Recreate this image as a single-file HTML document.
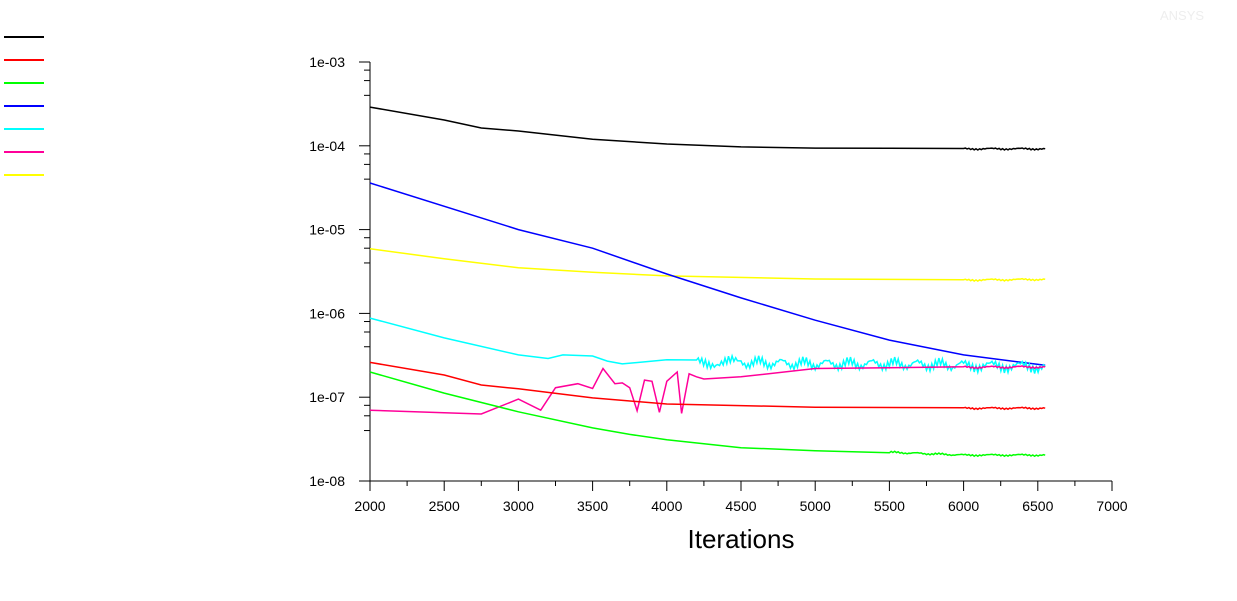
<!DOCTYPE html>
<html><head><meta charset="utf-8"><style>
body{margin:0;background:#fff;font-family:"Liberation Sans",sans-serif}
svg{display:block}
</style></head><body>
<svg id="chart" width="1237" height="601" xmlns="http://www.w3.org/2000/svg">
<text x="1160" y="20" font-size="13" fill="#eeeeee">ANSYS</text>
<g id="legend"></g>
<g id="axes"></g>
<g id="series"></g>
<text x="741" y="548" font-size="26" text-anchor="middle" fill="#000">Iterations</text>
</svg>
<script>
const NS="http://www.w3.org/2000/svg";
const xTicks=[2000,2500,3000,3500,4000,4500,5000,5500,6000,6500,7000];
const yExps=[-3,-4,-5,-6,-7,-8];
const yTickLabels=["1e-03","1e-04","1e-05","1e-06","1e-07","1e-08"];
const seriesNames=["continuity","x-velocity","y-velocity","z-velocity","energy","k","epsilon"];
const blackIt=[2000,2500,2750,3000,3500,4000,4500,5000,6000,6550];
const blackV=[2.9e-4,2.03e-4,1.63e-4,1.5e-4,1.2e-4,1.05e-4,9.7e-5,9.4e-5,9.2e-5,9.2e-5];
const blueIt=[2000,3000,3500,4000,4500,5000,5500,6000,6550];
const blueV=[3.6e-5,1.0e-5,6.0e-6,2.95e-6,1.53e-6,8.3e-7,4.8e-7,3.2e-7,2.4e-7];
const yellowIt=[2000,2500,3000,3500,4000,5000,6000,6550];
const yellowV=[5.9e-6,4.5e-6,3.5e-6,3.1e-6,2.8e-6,2.57e-6,2.5e-6,2.55e-6];
const cyanIt=[2000,2500,3000,3200,3300,3500,3600,3700,4000,4200,4500,5000,5500,6000,6550];
const cyanV=[8.8e-7,5.1e-7,3.2e-7,2.9e-7,3.2e-7,3.1e-7,2.7e-7,2.5e-7,2.8e-7,2.6e-7,2.6e-7,2.5e-7,2.5e-7,2.4e-7,2.3e-7];
const redIt=[2000,2500,2750,3000,3500,4000,5000,6000,6550];
const redV=[2.6e-7,1.84e-7,1.4e-7,1.26e-7,9.8e-8,8.3e-8,7.6e-8,7.4e-8,7.4e-8];
const greenIt=[2000,2500,3000,3500,3750,4000,4500,5000,5500,6000,6550];
const greenV=[2.0e-7,1.12e-7,6.7e-8,4.3e-8,3.6e-8,3.1e-8,2.5e-8,2.3e-8,2.2e-8,2.04e-8,2.04e-8];
const magIt=[2000,2750,3000,3150,3250,3400,3500,3570,3650,3700,3750,3800,3850,3900,3950,4000,4070,4100,4150,4200,4250,4500,5000,5500,6000,6550];
const magV=[7.0e-8,6.3e-8,9.5e-8,7.0e-8,1.3e-7,1.45e-7,1.27e-7,2.2e-7,1.45e-7,1.48e-7,1.3e-7,6.9e-8,1.6e-7,1.55e-7,6.6e-8,1.55e-7,2.0e-7,6.4e-8,1.9e-7,1.75e-7,1.65e-7,1.75e-7,2.2e-7,2.25e-7,2.28e-7,2.3e-7];
const colors=["#000","#f00","#0f0","#00f","#0ff","#f09","#ff0"];

const X=v=>370+(v-2000)*742/5000;
const Y=v=>62+(-3-Math.log10(v))*83.8;
function mk(tag,attrs,parent){const e=document.createElementNS(NS,tag);for(const k in attrs)e.setAttribute(k,attrs[k]);parent.appendChild(e);return e;}
const axes=document.getElementById('axes');
let a=mk('line',{x1:370,y1:62,x2:370,y2:481,stroke:'#000'},axes);


a=mk('line',{x1:370,y1:481,x2:1112,y2:481,stroke:'#000'},axes);


xTicks.forEach(t=>{
  const x=X(t);
  mk('line',{x1:x,y1:481,x2:x,y2:491,stroke:'#000'},axes);
  const tx=mk('text',{x:x,y:511,'font-size':14,'text-anchor':'middle'},axes);
  tx.textContent=t;
  
  
  if(t<7000){const m=X(t+250);mk('line',{x1:m,y1:481,x2:m,y2:486,stroke:'#000'},axes);}
});
yExps.forEach((e,i)=>{
  const y=Y(Math.pow(10,e));
  mk('line',{x1:359,y1:y,x2:370,y2:y,stroke:'#000'},axes);
  const tx=mk('text',{x:345,y:y+5,'font-size':14,'text-anchor':'end'},axes);
  tx.textContent=yTickLabels[i];
  
  
  if(e>-8){[8,6,4].forEach(m=>{const yy=Y(m*Math.pow(10,e-1));mk('line',{x1:364,y1:yy,x2:370,y2:yy,stroke:'#000'},axes);});}
});
const leg=document.getElementById('legend');
colors.forEach((c,i)=>{
  const l=mk('line',{x1:4,y1:37+i*23,x2:44,y2:37+i*23,stroke:c,'stroke-width':2},leg);
  
  
});
const ser=document.getElementById('series');
function draw(its,vals,color,name,noiseFrom,amp){
  const pts=[];
  for(let i=0;i<its.length-1;i++){
    const steps=(noiseFrom!=null&&its[i]>=noiseFrom)?Math.round((its[i+1]-its[i])/12):1;
    for(let s=0;s<steps;s++){
      const f=s/steps, it=its[i]+f*(its[i+1]-its[i]);
      const lv=Math.log10(vals[i])+f*(Math.log10(vals[i+1])-Math.log10(vals[i]));
      let y=Y(Math.pow(10,lv));
      if(steps>1) y+=amp*Math.sin(it*1.7)*Math.cos(it*0.37);
      pts.push(X(it).toFixed(1)+','+y.toFixed(1));
    }
  }
  pts.push(X(its[its.length-1]).toFixed(1)+','+Y(vals[vals.length-1]).toFixed(1));
  const p=mk('polyline',{points:pts.join(' '),fill:'none',stroke:color,'stroke-width':1.5},ser);
  
  
}
draw(blackIt,blackV,"#000","continuity",5500,1.2);
draw(yellowIt,yellowV,"#ff0","epsilon",5500,1.2);
draw(blueIt,blueV,"#00f","z-velocity",null,0);
draw(cyanIt,cyanV,"#0ff","energy",4200,7);
draw(magIt,magV,"#f09","k",6000,1.5);
draw(redIt,redV,"#f00","x-velocity",5500,1.2);
draw(greenIt,greenV,"#0f0","y-velocity",5500,1.2);
</script>
</body></html>
